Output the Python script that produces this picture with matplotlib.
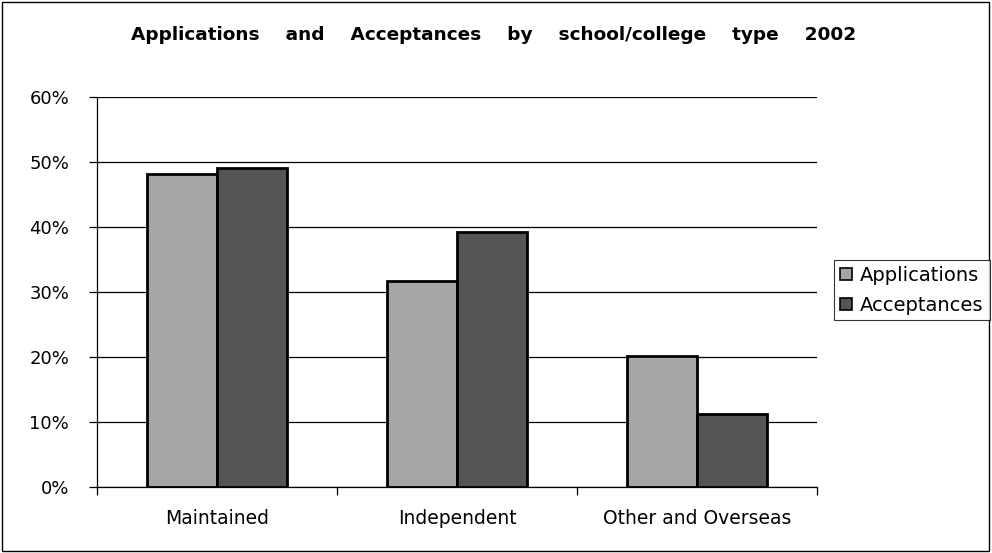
import matplotlib.pyplot as plt
import numpy as np
from matplotlib.patches import Rectangle

# data
categories = ["Maintained", "Independent", "Other and Overseas"]
applications = [48.1, 31.7, 20.2]
acceptances = [49.1, 39.3, 11.2]
series_names = ["Applications", "Acceptances"]
y_ticks = [0, 10, 20, 30, 40, 50, 60]

plt.rcParams['font.family'] = ['DejaVu Sans']

fig = plt.figure(figsize=(9.92, 5.53), dpi=100)
ax = fig.add_axes([97 / 992, 1 - 487 / 553, 720 / 992, 390 / 553])

# outer frame of the chart
fig.patches.append(Rectangle((2 / 992, 2 / 553), 987 / 992, 549 / 553, transform=fig.transFigure,
                             fill=False, edgecolor='black', linewidth=1.0))

x = np.arange(len(categories))
w = 0.29
ax.bar(x - w / 2, applications, w, color='#a6a6a6', edgecolor='black', linewidth=2.0,
       label=series_names[0], zorder=3)
ax.bar(x + w / 2, acceptances, w, color='#555555', edgecolor='black', linewidth=2.0,
       label=series_names[1], zorder=3)

ax.set_xlim(-0.5, len(categories) - 0.5)
ax.set_ylim(0, 60)
ax.set_yticks(y_ticks)
ax.set_yticklabels([f"{v}%" for v in y_ticks], fontsize=13)
ax.yaxis.grid(True, color='black', linewidth=0.9, zorder=0)
ax.set_axisbelow(True)

# category labels between boundary ticks
ax.set_xticks(np.arange(len(categories) + 1) - 0.5)
ax.set_xticklabels([])
ax.set_xticks(x, minor=True)
ax.set_xticklabels(categories, minor=True, fontsize=13.5)
ax.tick_params(axis='x', which='minor', length=0, pad=16)
ax.tick_params(axis='x', which='major', length=6, width=0.9, direction='out')
ax.tick_params(axis='y', length=6, width=0.9, direction='out', pad=14)

for s in ['top', 'right']:
    ax.spines[s].set_visible(False)
ax.spines['left'].set_linewidth(0.9)
ax.spines['bottom'].set_linewidth(0.9)

leg = fig.legend(loc='upper left', bbox_to_anchor=(834 / 992, 1 - 260 / 553), fontsize=14,
                 frameon=True, fancybox=False, edgecolor='black', handlelength=0.6,
                 handleheight=0.6, handletextpad=0.45, borderpad=0.3, labelspacing=0.55,
                 borderaxespad=0)
leg.get_frame().set_linewidth(0.8)
for h in leg.legend_handles:
    h.set_linewidth(1.2)

fig.text(0.498, 1 - 35 / 553, "Applications    and    Acceptances    by    school/college    type    2002",
         ha='center', va='center', fontsize=13.3, fontweight='bold')

fig.savefig("out.png", dpi=100)
